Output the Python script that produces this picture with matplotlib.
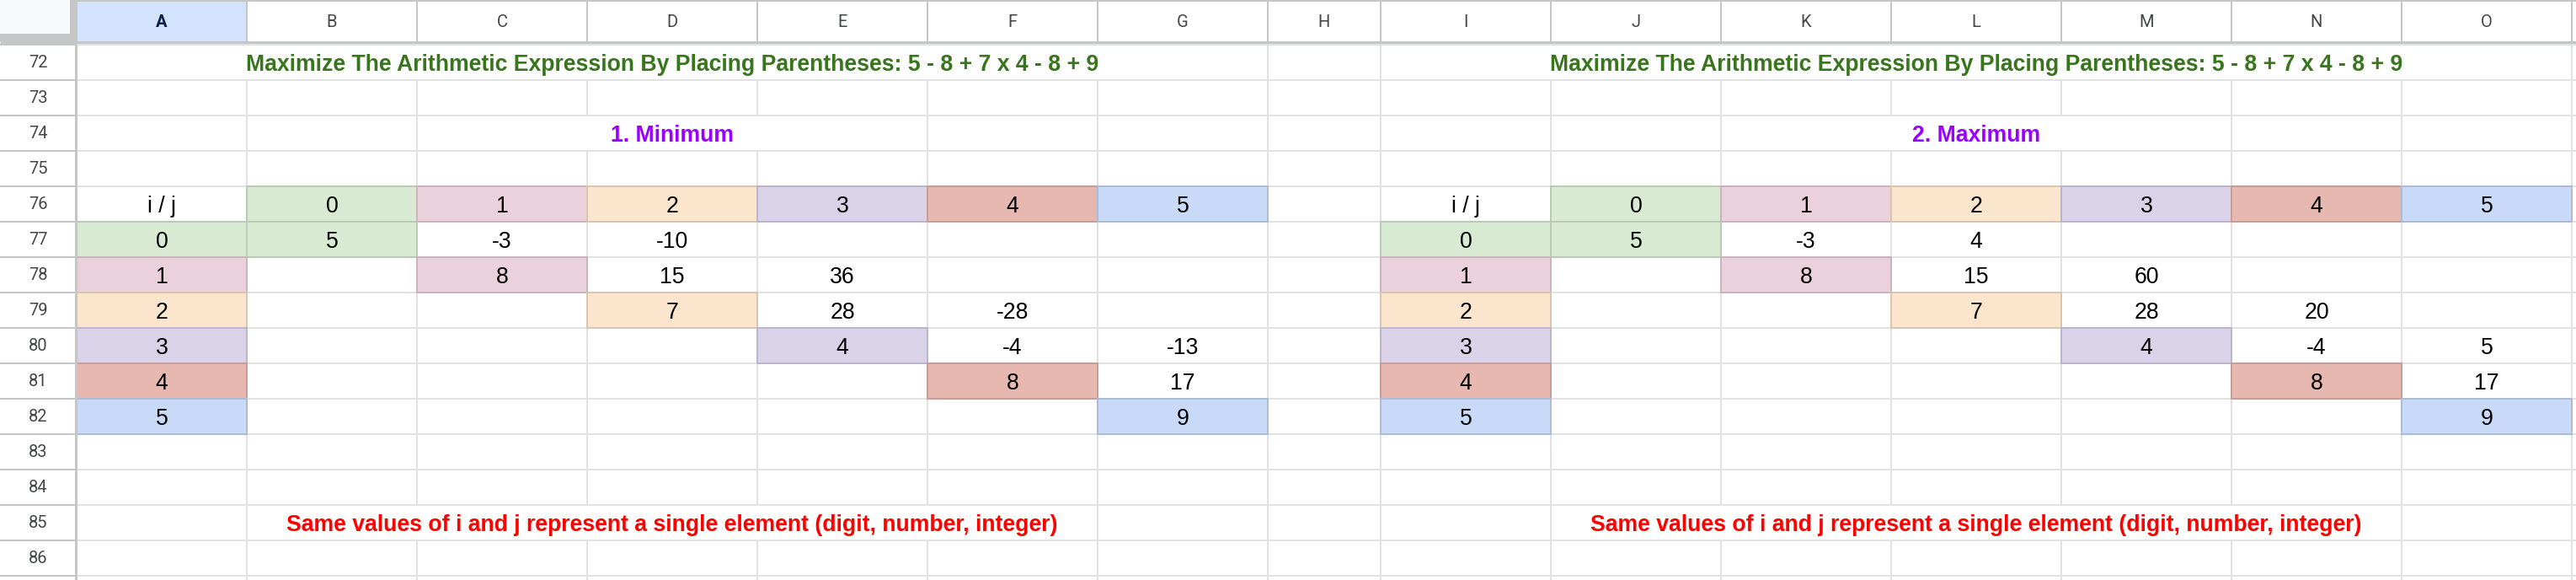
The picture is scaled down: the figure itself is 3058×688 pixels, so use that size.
import matplotlib
matplotlib.use("Agg")
import matplotlib.pyplot as plt
from matplotlib.patches import Rectangle
from matplotlib.colors import to_rgb

# ---------------- data ----------------
column_letters = list("ABCDEFGHIJKLMNO")
row_numbers = list(range(72, 88))
title_text = "Maximize The Arithmetic Expression By Placing Parentheses: 5 - 8 + 7 x 4 - 8 + 9"
section_titles = ["1. Minimum", "2. Maximum"]
note_text = "Same values of i and j represent a single element (digit, number, integer)"
corner_label = "i / j"
index_labels = [0, 1, 2, 3, 4, 5]
min_values = [
    [5, -3, -10, None, None, None],
    [None, 8, 15, 36, None, None],
    [None, None, 7, 28, -28, None],
    [None, None, None, 4, -4, -13],
    [None, None, None, None, 8, 17],
    [None, None, None, None, None, 9],
]
max_values = [
    [5, -3, 4, None, None, None],
    [None, 8, 15, 60, None, None],
    [None, None, 7, 28, 20, None],
    [None, None, None, 4, -4, 5],
    [None, None, None, None, 8, 17],
    [None, None, None, None, None, 9],
]
index_colors = ["#d9ead3", "#ead1dc", "#fce5cd", "#d9d2e9", "#e6b8af", "#c9daf8"]

# ---------------- layout ----------------
W, H = 3058, 688
ROW_HDR_W = 91
COL_HDR_H = 49
GRID_TOP = 53
ROW_H = 42
col_widths = [202] * 7 + [134] + [202] * 7 + [202]
col_left = [ROW_HDR_W]
for w in col_widths:
    col_left.append(col_left[-1] + w)
row_top = [GRID_TOP + k * ROW_H for k in range(len(row_numbers) + 1)]

merges = {72: [(0, 6), (8, 14)], 74: [(2, 4), (10, 12)], 85: [(1, 5), (9, 13)]}
blocks = [(0, min_values), (8, max_values)]   # (first column index, values)
TABLE_ROW = row_numbers.index(76)
TITLE_WIDTH_PX = 1015   # width of the title text in the reference

GRID = "#e1e1e1"
HDR_LINE = "#c4c7c5"
PX = 0.72  # 1 px in points at dpi 100
CELL_FONT = ["Liberation Sans", "DejaVu Sans"]

fig = plt.figure(figsize=(W / 100, H / 100), dpi=100)
ax = fig.add_axes([0, 0, 1, 1])
ax.set_xlim(0, W)
ax.set_ylim(H, 0)
ax.axis("off")
fig.patch.set_facecolor("white")

# fit the sheet font size so the title has the reference width
renderer = fig.canvas.get_renderer()
probe = ax.text(0, 0, title_text, fontsize=18, fontweight="bold", family=CELL_FONT)
pw = probe.get_window_extent(renderer).width
probe.remove()
FS = 18 * TITLE_WIDTH_PX / pw


def darker(c, f=0.86):
    r, g, b = to_rgb(c)
    return (r * f, g * f, b * f)


def cell_rect(ci, ri):
    return col_left[ci], row_top[ri], col_left[ci + 1] - col_left[ci], ROW_H


def cell_text(ci0, ci1, ri, s, color="black", weight="normal"):
    xc = (col_left[ci0] + col_left[ci1 + 1]) / 2
    yb = row_top[ri + 1] - 11.5
    ax.text(xc, yb, s, ha="center", va="baseline", fontsize=FS, color=color,
            fontweight=weight, family=CELL_FONT, zorder=6)


def colored_cell(ci, ri, color):
    x, y, w, h = cell_rect(ci, ri)
    ax.add_patch(Rectangle((x, y), w, h, facecolor=color, edgecolor=darker(color),
                           lw=2 * PX, zorder=3))


# ---- grid lines ----
ax.hlines(row_top, ROW_HDR_W, W, colors=GRID, lw=2 * PX, zorder=1)
for ri, rn in enumerate(row_numbers):
    y0, y1 = row_top[ri], row_top[ri + 1]
    for c in range(1, len(col_widths)):
        if any(a < c <= b for a, b in merges.get(rn, [])):
            continue
        ax.vlines(col_left[c], y0, y1, colors=GRID, lw=2 * PX, zorder=1)

# ---- tables ----
for c0, vals in blocks:
    cell_text(c0, c0, TABLE_ROW, corner_label)
    for k, lab in enumerate(index_labels):
        colored_cell(c0 + 1 + k, TABLE_ROW, index_colors[k])
        cell_text(c0 + 1 + k, c0 + 1 + k, TABLE_ROW, str(lab))
        colored_cell(c0, TABLE_ROW + 1 + k, index_colors[k])
        cell_text(c0, c0, TABLE_ROW + 1 + k, str(lab))
    for i, row in enumerate(vals):
        for j, v in enumerate(row):
            if v is None:
                continue
            ci = c0 + 1 + j
            ri = TABLE_ROW + 1 + i
            if i == j:
                colored_cell(ci, ri, index_colors[i])
            cell_text(ci, ci, ri, str(v))

# ---- merged texts ----
for (a, b) in merges[72]:
    cell_text(a, b, row_numbers.index(72), title_text, color="#38761d", weight="bold")
for (a, b), s in zip(merges[74], section_titles):
    cell_text(a, b, row_numbers.index(74), s, color="#9900ff", weight="bold")
for (a, b) in merges[85]:
    cell_text(a, b, row_numbers.index(85), note_text, color="#ff0000", weight="bold")

# ---- column header ----
ax.add_patch(Rectangle((0, 0), W, COL_HDR_H, facecolor="white", edgecolor="none", zorder=7))
ax.add_patch(Rectangle((col_left[0], 0), col_widths[0], COL_HDR_H, facecolor="#d3e3fd",
                       edgecolor="none", zorder=7))
for c in range(1, len(col_left)):
    ax.vlines(col_left[c], 0, COL_HDR_H, colors=HDR_LINE, lw=2 * PX, zorder=8)
for ci, letter in enumerate(column_letters):
    xc = col_left[ci] + col_widths[ci] / 2
    sel = ci == 0
    ax.text(xc, 32, letter, ha="center", va="baseline", fontsize=14.5,
            color="#041e49" if sel else "#444746", fontweight="bold" if sel else "normal",
            family=["Roboto", "DejaVu Sans"], zorder=9)
ax.hlines(1, 0, W, colors=HDR_LINE, lw=2 * PX, zorder=8)
ax.hlines(COL_HDR_H + 0.5, 0, W, colors=HDR_LINE, lw=3 * PX, zorder=8)

# ---- row header ----
ax.add_patch(Rectangle((0, GRID_TOP), ROW_HDR_W, H - GRID_TOP, facecolor="white",
                       edgecolor="none", zorder=7))
ax.hlines(row_top, 0, ROW_HDR_W, colors=HDR_LINE, lw=2 * PX, zorder=8)
for ri, rn in enumerate(row_numbers):
    yb = row_top[ri + 1] - 15
    if yb > H:
        continue
    ax.text(ROW_HDR_W / 2, yb, str(rn), ha="center", va="baseline",
            fontsize=14.5, color="#444746", family=["Roboto", "DejaVu Sans"], zorder=9)
ax.vlines(ROW_HDR_W - 1, 0, H, colors=HDR_LINE, lw=3 * PX, zorder=8)

# ---- corner ----
ax.add_patch(Rectangle((0, 0), ROW_HDR_W, COL_HDR_H, facecolor=HDR_LINE, edgecolor="none", zorder=10))
ax.add_patch(Rectangle((0, 0), ROW_HDR_W - 8, COL_HDR_H - 9, facecolor="#f8f9fa",
                       edgecolor="none", zorder=11))

fig.savefig("out.png", dpi=100, facecolor="white")
